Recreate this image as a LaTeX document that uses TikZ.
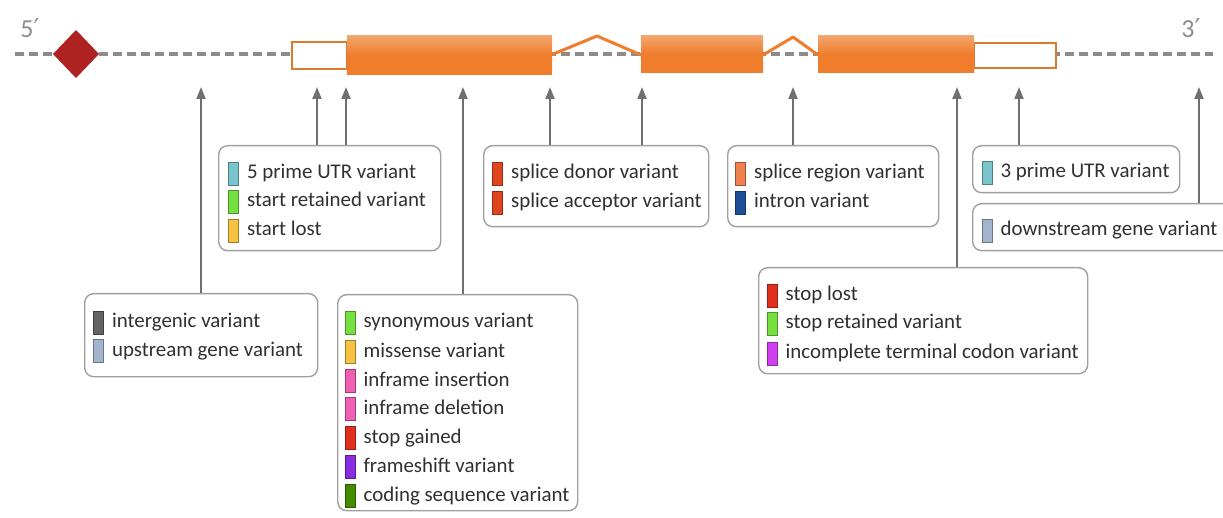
\documentclass[tikz,border=0pt]{standalone}
\usepackage{fontspec}
\setmainfont{Carlito}
\newfontfamily\dejavu{DejaVu Sans}
\usetikzlibrary{arrows.meta,calc}
\definecolor{geneline}{HTML}{8C8C8C}
\definecolor{exon}{HTML}{F07D2C}
\definecolor{exonL}{HTML}{F3A56C}
\definecolor{exonedge}{HTML}{E0782E}
\definecolor{diam}{HTML}{AE2222}
\definecolor{arrowc}{HTML}{707070}
\definecolor{boxc}{HTML}{A0A0A0}
\definecolor{txt}{HTML}{303030}
\definecolor{cUTR}{HTML}{7AC5CD}
\definecolor{cUp}{HTML}{A2B5CD}
\definecolor{cInter}{HTML}{636363}
\definecolor{cGreen}{HTML}{76E040}
\definecolor{cGold}{HTML}{F5C242}
\definecolor{cPink}{HTML}{F060B4}
\definecolor{cRed}{HTML}{E2301E}
\definecolor{cSplice}{HTML}{E0451E}
\definecolor{cRegion}{HTML}{F08050}
\definecolor{cIntron}{HTML}{1F4E99}
\definecolor{cPurple}{HTML}{8A2BE2}
\definecolor{cDkGreen}{HTML}{458B00}
\definecolor{cMagenta}{HTML}{D040F0}
\tikzset{
  vbox/.style={draw=boxc, line width=1.4pt, rounded corners=9pt, fill=white, anchor=north west, inner sep=0pt},
  chip/.style={fill=#1, draw=#1!65!black, line width=0.8pt, minimum width=10pt, minimum height=23pt, inner sep=0pt},
  lbl/.style={anchor=west, inner sep=0pt, text=txt, font=\fontsize{20.9}{24}\selectfont, text height=14pt, text depth=4pt},
  arr/.style={draw=arrowc, line width=2pt, -{Triangle[length=12pt,width=9pt]}},
  endlbl/.style={text=geneline, font=\fontsize{26}{30}\selectfont, inner sep=0pt}
}
\newcommand\vitem[5]{\node[chip=#4] (#1c) at (#2,#3) {};
  \node[lbl] (#1) at ($(#1c.east)+(8,0)$) {#5};}
\begin{document}
\begin{tikzpicture}[x=1pt,y=-1pt]
\clip (0,0) rectangle (1223,518);
\useasboundingbox (0,0) rectangle (1223,518);
% gene line
\draw[geneline, line width=3.5pt, dash pattern=on 9pt off 5pt] (15,54) -- (1213,54);
% diamond
\fill[diam] (76,30) -- (99,54) -- (76,78) -- (53,54) -- cycle;
% UTRs
\draw[exonedge, line width=1.5pt, fill=white] (292,42) rectangle (347,69);
\draw[exonedge, line width=1.5pt, fill=white] (974,43) rectangle (1056,68);
% introns
\draw[exon, line width=3pt, line join=round] (551,55) -- (597,36) -- (641,55);
\draw[exon, line width=3pt, line join=round] (763,55) -- (793,37) -- (818,55);
% exons
\shade[top color=exonL, bottom color=exon, middle color=exon] (347,36) rectangle (552,75);
\shade[top color=exonL, bottom color=exon, middle color=exon] (641,36) rectangle (763,73);
\shade[top color=exonL, bottom color=exon, middle color=exon] (818,36) rectangle (974,73);
% end labels
\node[endlbl] (five) at (30,28) {5{\dejavu\char"2032}};
\node[endlbl] (three) at (1191,28) {3{\dejavu\char"2032}};
% arrow tips
\coordinate (a1) at (201,87);
\coordinate (a2) at (317,87);
\coordinate (a3) at (346,87);
\coordinate (a4) at (463,87);
\coordinate (a5) at (550,87);
\coordinate (a6) at (642,87);
\coordinate (a7) at (793,87);
\coordinate (a8) at (957,87);
\coordinate (a9) at (1019,87);
\coordinate (a10) at (1199,87);
% boxes
\node[vbox, minimum width=222pt, minimum height=105pt] (utr5) at (218,145) {};
\node[vbox, minimum width=233pt, minimum height=83pt] (inter) at (84,293) {};
\node[vbox, minimum width=240pt, minimum height=216pt] (coding) at (337,294) {};
\node[vbox, minimum width=225pt, minimum height=81pt] (splice) at (483,145) {};
\node[vbox, minimum width=211pt, minimum height=81pt] (region) at (727,145) {};
\node[vbox, minimum width=207pt, minimum height=47pt] (utr3) at (972,145) {};
\node[vbox, minimum width=260pt, minimum height=47pt] (down) at (972,203) {};
\node[vbox, minimum width=329pt, minimum height=106pt] (stop) at (758,267) {};
% arrows
\draw[arr] (inter.north -| a1) -- (a1);
\draw[arr] (utr5.north -| a2) -- (a2);
\draw[arr] (utr5.north -| a3) -- (a3);
\draw[arr] (coding.north -| a4) -- (a4);
\draw[arr] (splice.north -| a5) -- (a5);
\draw[arr] (splice.north -| a6) -- (a6);
\draw[arr] (region.north -| a7) -- (a7);
\draw[arr] (stop.north -| a8) -- (a8);
\draw[arr] (utr3.north -| a9) -- (a9);
\draw[arr] (down.north -| a10) -- (a10);
% items
\vitem{i1}{233.5}{174}{cUTR}{5 prime UTR variant}
\vitem{i2}{233.5}{202}{cGreen}{start retained variant}
\vitem{i3}{233.5}{231}{cGold}{start lost}
\vitem{i4}{98.5}{323}{cInter}{intergenic variant}
\vitem{i5}{98.5}{351}{cUp}{upstream gene variant}
\vitem{i6}{350}{323}{cGreen}{synonymous variant}
\vitem{i7}{350}{352}{cGold}{missense variant}
\vitem{i8}{350}{381}{cPink}{inframe insertion}
\vitem{i9}{350}{409}{cPink}{inframe deletion}
\vitem{i10}{350}{438}{cRed}{stop gained}
\vitem{i11}{350}{467}{cPurple}{frameshift variant}
\vitem{i12}{350}{496}{cDkGreen}{coding sequence variant}
\vitem{i13}{497.5}{174}{cSplice}{splice donor variant}
\vitem{i14}{497.5}{203}{cSplice}{splice acceptor variant}
\vitem{i15}{740.5}{174}{cRegion}{splice region variant}
\vitem{i16}{740.5}{203}{cIntron}{intron variant}
\vitem{i17}{987}{173}{cUTR}{3 prime UTR variant}
\vitem{i18}{987}{231}{cUp}{downstream gene variant}
\vitem{i19}{772}{296}{cRed}{stop lost}
\vitem{i20}{772}{324}{cGreen}{stop retained variant}
\vitem{i21}{772}{354}{cMagenta}{incomplete terminal codon variant}
\end{tikzpicture}
\end{document}
